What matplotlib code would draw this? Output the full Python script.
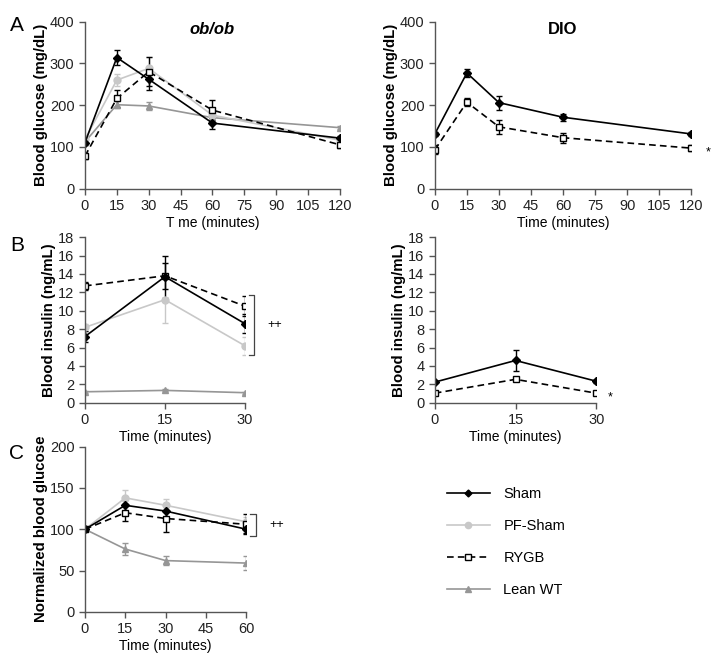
import matplotlib
matplotlib.use("Agg")
import matplotlib.pyplot as plt
from matplotlib.lines import Line2D

plt.rcParams['font.family'] = ['Liberation Sans', 'DejaVu Sans']

groups = ['Sham', 'PF-Sham', 'RYGB', 'Lean WT']

# A: glucose tolerance (mg/dL)
t_gtt = [0, 15, 30, 60, 120]
ob_glc = {
    'Sham':    [110, 314, 262, 157, 121],
    'PF-Sham': [118, 260, 288, 176, 116],
    'RYGB':    [78, 216, 280, 188, 105],
    'Lean WT': [112, 201, 198, 170, 146],
}
ob_glc_err = {
    'Sham':    [6, 17, 25, 13, 5],
    'PF-Sham': [5, 15, 28, 12, 5],
    'RYGB':    [8, 20, 35, 24, 8],
    'Lean WT': [4, 8, 10, 6, 4],
}
dio_glc = {
    'Sham': [131, 277, 206, 171, 131],
    'RYGB': [93, 207, 148, 122, 97],
}
dio_glc_err = {
    'Sham': [4, 10, 17, 8, 4],
    'RYGB': [11, 10, 17, 12, 8],
}

# B: insulin (ng/mL)
t_ins = [0, 15, 30]
ob_ins = {
    'Sham':    [7.2, 13.7, 8.6],
    'PF-Sham': [8.2, 11.2, 6.2],
    'RYGB':    [12.7, 13.8, 10.5],
    'Lean WT': [1.2, 1.35, 1.1],
}
ob_ins_err = {
    'Sham':    [0.6, 2.3, 1.0],
    'PF-Sham': [0.4, 2.5, 1.0],
    'RYGB':    [0.4, 1.4, 1.1],
    'Lean WT': [0.1, 0.1, 0.1],
}
dio_ins = {
    'Sham': [2.25, 4.6, 2.35],
    'RYGB': [1.05, 2.55, 1.05],
}
dio_ins_err = {
    'Sham': [0.15, 1.1, 0.15],
    'RYGB': [0.1, 0.15, 0.1],
}

# C: normalized glucose
t_norm = [0, 15, 30, 60]
norm_glc = {
    'Sham':    [100, 129, 122, 100],
    'PF-Sham': [100, 138, 129, 109],
    'RYGB':    [100, 120, 113, 106],
    'Lean WT': [100, 76, 62, 59],
}
norm_glc_err = {
    'Sham':    [0, 7, 8, 5],
    'PF-Sham': [0, 9, 8, 6],
    'RYGB':    [0, 10, 16, 12],
    'Lean WT': [0, 7, 5, 8],
}

style = {
    'Sham':    dict(color='black', ls='-', marker='D', mfc='black', mec='black', ms=4),
    'PF-Sham': dict(color='#c8c8c8', ls='-', marker='o', mfc='#c8c8c8', mec='#c8c8c8', ms=5),
    'RYGB':    dict(color='black', ls=(0, (4, 2.5)), marker='s', mfc='white', mec='black', ms=5),
    'Lean WT': dict(color='#969696', ls='-', marker='^', mfc='#969696', mec='#969696', ms=5),
}
order = ['Lean WT', 'PF-Sham', 'RYGB', 'Sham']
axis_col = '#555555'
fs_tick = 10.5
fs_lab = 10.8


def plot_panel(ax, t, data, err, ylim, yticks, xticks, ylabel, xlabel):
    for g in order:
        if g not in data:
            continue
        s = style[g]
        ax.errorbar(t, data[g], yerr=err[g], color=s['color'], ls=s['ls'], lw=1.2,
                    marker=s['marker'], mfc=s['mfc'], mec=s['mec'], ms=s['ms'],
                    ecolor=s['color'] if g != 'RYGB' else 'black', elinewidth=1,
                    capsize=2.5, capthick=1)
    ax.set_xlim(t[0], max(xticks))
    ax.set_ylim(*ylim)
    ax.set_xticks(xticks)
    ax.set_yticks(yticks)
    for sp in ['top', 'right']:
        ax.spines[sp].set_visible(False)
    for sp in ['left', 'bottom']:
        ax.spines[sp].set_color(axis_col)
        ax.spines[sp].set_linewidth(1)
    ax.tick_params(direction='out', length=4, width=1, color=axis_col,
                   labelsize=fs_tick, labelcolor='#222222')
    ax.set_ylabel(ylabel, fontsize=fs_lab, fontweight='bold', labelpad=1.5)
    ax.set_xlabel(xlabel, fontsize=fs_tick - 0.5, labelpad=2)
    ax.margins(0)


fig = plt.figure(figsize=(7.14, 6.55), dpi=100)

ax1 = fig.add_axes([0.119, 0.712, 0.357, 0.255])
ax2 = fig.add_axes([0.609, 0.712, 0.359, 0.255])
ax3 = fig.add_axes([0.119, 0.385, 0.224, 0.253])
ax4 = fig.add_axes([0.609, 0.385, 0.226, 0.253])
ax5 = fig.add_axes([0.119, 0.066, 0.226, 0.252])

plot_panel(ax1, t_gtt, ob_glc, ob_glc_err, (0, 400), range(0, 401, 100),
           range(0, 121, 15), 'Blood glucose (mg/dL)', 'T me (minutes)')
plot_panel(ax2, t_gtt, dio_glc, dio_glc_err, (0, 400), range(0, 401, 100),
           range(0, 121, 15), 'Blood glucose (mg/dL)', 'Time (minutes)')
plot_panel(ax3, t_ins, ob_ins, ob_ins_err, (0, 18), range(0, 19, 2),
           [0, 15, 30], 'Blood insulin (ng/mL)', 'Time (minutes)')
plot_panel(ax4, t_ins, dio_ins, dio_ins_err, (0, 18), range(0, 19, 2),
           [0, 15, 30], 'Blood insulin (ng/mL)', 'Time (minutes)')
plot_panel(ax5, t_norm, norm_glc, norm_glc_err, (0, 200), range(0, 201, 50),
           range(0, 61, 15), 'Normalized blood glucose', 'Time (minutes)')

ax1.set_title('ob/ob', fontsize=12, fontweight='bold', style='italic', pad=-9, y=1.0)
ax2.set_title('DIO', fontsize=12, fontweight='bold', pad=-9, y=1.0)

# panel letters
fig.text(0.014, 0.975, 'A', fontsize=15, va='top')
fig.text(0.014, 0.64, 'B', fontsize=15, va='top')
fig.text(0.012, 0.322, 'C', fontsize=15, va='top')

# significance marks
ax2.annotate('*', xy=(1.0, 97 / 400), xycoords='axes fraction', xytext=(12, -3),
             textcoords='offset points', fontsize=9, ha='center', va='center')
ax4.annotate('*', xy=(1.0, 1.05 / 18), xycoords='axes fraction', xytext=(10, -3),
             textcoords='offset points', fontsize=9, ha='center', va='center')


def bracket(ax, y0, y1, xoff=1.06, w=0.035):
    ax.plot([xoff - w, xoff, xoff, xoff - w], [y0, y0, y1, y1], color='#444444',
            lw=0.9, transform=ax.get_yaxis_transform(), clip_on=False)
    ax.text(xoff + 0.08, (y0 + y1) / 2, '++', transform=ax.get_yaxis_transform(),
            fontsize=9, va='center', ha='left')


bracket(ax3, 5.2, 11.7)
bracket(ax5, 92, 119)

handles = []
for g in groups:
    s = style[g]
    handles.append(Line2D([], [], color=s['color'], ls=s['ls'], lw=1.2, marker=s['marker'],
                          mfc=s['mfc'], mec=s['mec'], ms=s['ms'] - 0.5))
fig.legend(handles, groups, loc='upper left', bbox_to_anchor=(0.607, 0.277),
           frameon=False, fontsize=10.5, handlelength=3.0, labelspacing=1.25,
           handletextpad=0.9)

fig.savefig('out.png', dpi=100)
